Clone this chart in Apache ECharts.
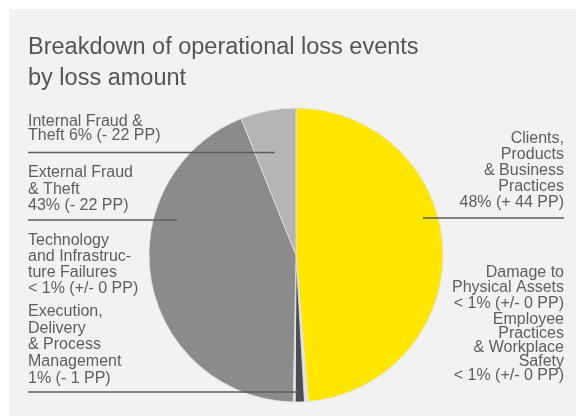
<!DOCTYPE html>
<html>
<head>
<meta charset="utf-8">
<script src="https://cdn.jsdelivr.net/npm/echarts@6/dist/echarts.min.js"></script>
<style>
  html, body { margin: 0; padding: 0; background: #ffffff; }
  #chart { width: 576px; height: 416px; }
</style>
</head>
<body>
<div id="chart"></div>
<script>
// Operational loss event types, clockwise from 12 o'clock
const categories = [
  'Clients,\nProducts\n& Business\nPractices',
  'Damage to\nPhysical Assets',
  'Employee\nPractices\n& Workplace\nSafety',
  'Execution,\nDelivery\n& Process\nManagement',
  'Technology\nand Infrastruc-\nture Failures',
  'External Fraud\n& Theft',
  'Internal Fraud &\nTheft'
];
// Share of total loss amount (%)
const shares = [48, 0.2, 0.2, 1, 0.2, 43, 6];
const shareLabels = ['48%', '< 1%', '< 1%', '1%', '< 1%', '43%', '6%'];
// Change versus previous period (percentage points)
const changes = ['+ 44 PP', '+/- 0 PP', '+/- 0 PP', '- 1 PP', '+/- 0 PP', '- 22 PP', '- 22 PP'];

// Styling
const sliceColors = ['#ffe600', '#e4e4e4', '#e4e4e4', '#4b4b55', '#e4e4e4', '#8b8b8b', '#b5b5b5'];
const TEXT = '#5e5e5e';
const RULE = '#5e5e5e';
const FONT = '"Liberation Sans", Arial, Helvetica, sans-serif';

// Label placement: side, block top, line height, joiner before the share,
// underline y and the x where the underline stops inside the slice
const labelPlacement = [
  { side: 'right', top: 131,   lh: 16,   sep: '\n', lineY: 218,   lineEnd: 423 },
  { side: 'right', top: 265,   lh: 15.3, sep: '\n' },
  { side: 'right', top: 313,   lh: 13.8, sep: '\n' },
  { side: 'left',  top: 303.4, lh: 16.6, sep: '\n', lineY: 392,   lineEnd: 300 },
  { side: 'left',  top: 232,   lh: 16.3, sep: '\n' },
  { side: 'left',  top: 164.5, lh: 16.5, sep: '\n', lineY: 220,   lineEnd: 177 },
  { side: 'left',  top: 114,   lh: 14.5, sep: ' ',  lineY: 152.5, lineEnd: 275 }
];
const LEFT_X = 28, RIGHT_X = 564;

function labelText(i) {
  const P = labelPlacement[i];
  const full = categories[i] + P.sep + shareLabels[i] + ' (' + changes[i] + ')';
  const lines = full.split('\n').map(s => '{t|' + s + '}');
  if (P.lineY != null) lines.push('{rule| }');
  return lines.join('\n');
}

const data = categories.map((name, i) => {
  const P = labelPlacement[i];
  const nLines = (name + P.sep).split('\n').length;
  const rich = {
    t: { fontFamily: FONT, fontSize: 16, lineHeight: P.lh, color: TEXT, align: P.side }
  };
  if (P.lineY != null) {
    const textBottom = P.top + nLines * P.lh;
    rich.rule = {
      width: Math.abs(P.lineEnd - (P.side === 'left' ? LEFT_X : RIGHT_X)),
      height: 1.6,
      lineHeight: 2 * (P.lineY - textBottom),
      backgroundColor: RULE,
      align: P.side,
      fontSize: 1
    };
  }
  return {
    name: name,
    value: shares[i],
    itemStyle: { color: sliceColors[i] },
    label: { align: P.side, rich: rich }
  };
});

const chart = echarts.init(document.getElementById('chart'), null, { renderer: 'canvas' });
chart.setOption({
  animation: false,
  backgroundColor: '#ffffff',
  title: {
    text: 'Breakdown of operational loss events\nby loss amount',
    left: 28,
    top: 32,
    padding: 0,
    textStyle: {
      fontFamily: FONT,
      fontSize: 23.5,
      lineHeight: 31,
      fontWeight: 'normal',
      color: '#555555'
    }
  },
  graphic: [{
    type: 'rect',
    z: -10,
    silent: true,
    shape: { x: 9, y: 9, width: 567, height: 407 },
    style: { fill: '#f2f2f2' }
  }],
  series: [{
    type: 'pie',
    center: [296, 255],
    radius: [0, 147],
    startAngle: 90,
    clockwise: true,
    avoidLabelOverlap: false,
    data: data,
    itemStyle: { borderColor: '#e2e2e2', borderWidth: 0.8 },
    emphasis: { disabled: true },
    label: {
      show: true,
      position: 'outside',
      fontFamily: FONT,
      fontSize: 16,
      color: TEXT,
      formatter: p => labelText(p.dataIndex)
    },
    labelLine: { show: false },
    labelLayout: function (p) {
      const P = labelPlacement[p.dataIndex];
      return {
        x: P.side === 'left' ? LEFT_X : RIGHT_X,
        y: P.top,
        align: P.side,
        verticalAlign: 'top'
      };
    }
  }]
});
</script>
</body>
</html>
